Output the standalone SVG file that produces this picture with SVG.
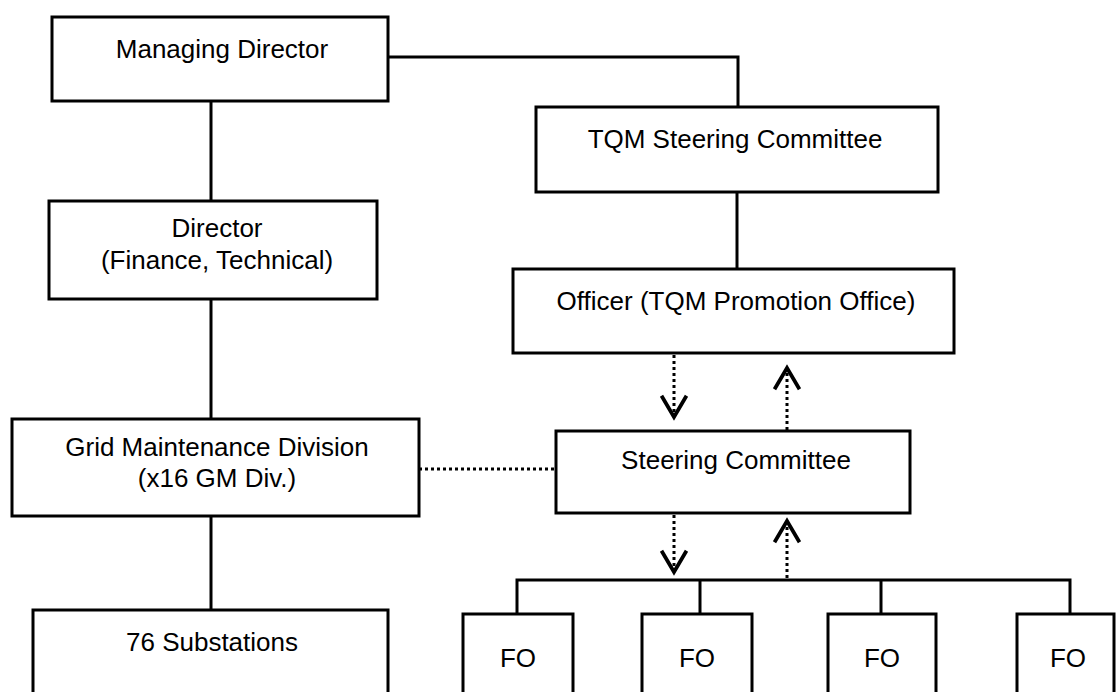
<svg xmlns="http://www.w3.org/2000/svg" width="1118" height="692" viewBox="0 0 1118 692">
<style>
.box{fill:#fff;stroke:#000;stroke-width:3}
.t{font-family:"Liberation Sans",Arial,sans-serif;font-size:26px;fill:#000;text-anchor:middle}
.c{fill:none;stroke:#000;stroke-width:3}
.d{fill:none;stroke:#000;stroke-width:3;stroke-dasharray:3 3}
</style>
<defs>
<marker id="ah" markerUnits="userSpaceOnUse" markerWidth="30" markerHeight="30" viewBox="-20 -12 24 24" refX="0" refY="0" orient="auto">
<path d="M-17,-10 L0,0 L-17,10" fill="none" stroke="#000" stroke-width="3"/>
</marker>
</defs>
<rect width="1118" height="692" fill="#fff"/>
<g id="connectors">
<path class="c" d="M388,57 H738 V107"/>
<path class="c" d="M211,101 V201"/>
<path class="c" d="M211,299 V419"/>
<path class="c" d="M211,516 V610"/>
<path class="c" d="M737,192 V269"/>
<path class="c" d="M517,614 V580 H1070 V614"/>
<path class="c" d="M700,580 V614"/>
<path class="c" d="M881,580 V614"/>
<path class="d" d="M419,469 H556"/>
<path class="d" d="M674,355 V417" marker-end="url(#ah)"/>
<path class="d" d="M787,430 V368" marker-end="url(#ah)"/>
<path class="d" d="M674,515 V572" marker-end="url(#ah)"/>
<path class="d" d="M787,578 V521" marker-end="url(#ah)"/>
</g>
<g id="managing-director"><rect class="box" x="52" y="17" width="336" height="84"/><text class="t" x="222" y="58">Managing Director</text></g>
<g id="director"><rect class="box" x="49" y="201" width="328" height="98"/><text class="t" x="217" y="237">Director</text><text class="t" x="217" y="269">(Finance, Technical)</text></g>
<g id="grid-maintenance"><rect class="box" x="12" y="419" width="407" height="97"/><text class="t" x="217" y="456">Grid Maintenance Division</text><text class="t" x="217" y="487">(x16 GM Div.)</text></g>
<g id="substations"><rect class="box" x="33" y="610" width="355" height="100"/><text class="t" x="212" y="651">76 Substations</text></g>
<g id="tqm-steering"><rect class="box" x="536" y="107" width="402" height="85"/><text class="t" x="735" y="148">TQM Steering Committee</text></g>
<g id="officer"><rect class="box" x="513" y="269" width="441" height="84"/><text class="t" x="736" y="310">Officer (TQM Promotion Office)</text></g>
<g id="steering"><rect class="box" x="556" y="431" width="354" height="82"/><text class="t" x="736" y="469">Steering Committee</text></g>
<g id="fo1"><rect class="box" x="463" y="614" width="110" height="100"/><text class="t" x="518" y="667">FO</text></g>
<g id="fo2"><rect class="box" x="642" y="614" width="110" height="100"/><text class="t" x="697" y="667">FO</text></g>
<g id="fo3"><rect class="box" x="828" y="614" width="108" height="100"/><text class="t" x="882" y="667">FO</text></g>
<g id="fo4"><rect class="box" x="1017" y="614" width="97" height="100"/><text class="t" x="1068" y="667">FO</text></g>
</svg>
